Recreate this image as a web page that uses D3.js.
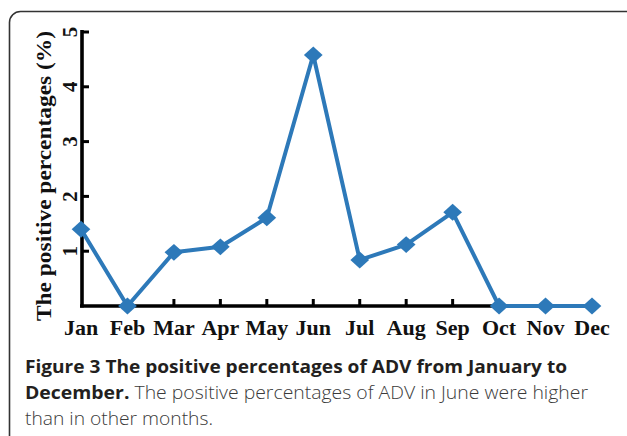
<!DOCTYPE html>
<html>
<head>
<meta charset="utf-8">
<title>Positive percentages of ADV</title>
<script src="https://d3js.org/d3.v7.min.js"></script>
<style>
  body { margin: 0; background: #fff; }
  svg { display: block; }
</style>
</head>
<body>
<script>
// data
var months = ["Jan", "Feb", "Mar", "Apr", "May", "Jun", "Jul", "Aug", "Sep", "Oct", "Nov", "Dec"];
var percents = [1.40, 0, 0.98, 1.08, 1.61, 4.58, 0.84, 1.12, 1.71, 0, 0, 0];
var yTicks = [1, 2, 3, 4, 5];
var tickedMonths = ["Mar", "Apr", "May", "Jun", "Jul", "Aug", "Sep"];
var captionLines = [
  [["Figure 3 The positive percentages of ADV from January to", true]],
  [["December.", true], [" The positive percentages of ADV in June were higher", false]],
  [["than in other months.", false]]
];

var w = 627, h = 436;
var blue = "#2d79b9";

var svg = d3.select("body").append("svg")
  .attr("width", w)
  .attr("height", h);

// frame around figure + caption
svg.append("rect")
  .attr("x", 9.5).attr("y", 11.5)
  .attr("width", 628).attr("height", 460)
  .attr("rx", 11)
  .attr("fill", "none")
  .attr("stroke", "#333")
  .attr("stroke-width", 1.6);

var xScale = d3.scalePoint()
  .domain(months)
  .range([81, 592]);

var yScale = d3.scaleLinear()
  .domain([0, 5])
  .range([306, 32]);

var serif = "'Liberation Serif', 'Times New Roman', serif";

// axes lines
svg.append("line")
  .attr("x1", 82).attr("x2", 82)
  .attr("y1", yScale(5) - 2).attr("y2", yScale(0) + 1.5)
  .attr("stroke", "#000").attr("stroke-width", 3.6);
svg.append("line")
  .attr("x1", 80).attr("x2", xScale("Dec"))
  .attr("y1", yScale(0)).attr("y2", yScale(0))
  .attr("stroke", "#000").attr("stroke-width", 3.6);

// y ticks (inside) and rotated labels
svg.selectAll(".ytick")
  .data(yTicks)
  .enter().append("line")
  .attr("class", "ytick")
  .attr("x1", 82).attr("x2", 89)
  .attr("y1", function(d) { return yScale(d); })
  .attr("y2", function(d) { return yScale(d); })
  .attr("stroke", "#000").attr("stroke-width", 3);

svg.selectAll(".ylab")
  .data(yTicks)
  .enter().append("text")
  .attr("class", "ylab")
  .attr("transform", function(d) { return "translate(77," + yScale(d) + ") rotate(-90)"; })
  .attr("text-anchor", "middle")
  .attr("font-family", serif)
  .attr("font-weight", "bold")
  .attr("font-size", 21)
  .attr("fill", "#111")
  .text(function(d) { return d; });

// x ticks (inside)
svg.selectAll(".xtick")
  .data(tickedMonths)
  .enter().append("line")
  .attr("class", "xtick")
  .attr("x1", function(d) { return xScale(d); })
  .attr("x2", function(d) { return xScale(d); })
  .attr("y1", yScale(0)).attr("y2", yScale(0) - 7)
  .attr("stroke", "#000").attr("stroke-width", 3);

svg.selectAll(".xlab")
  .data(months)
  .enter().append("text")
  .attr("class", "xlab")
  .attr("x", function(d) { return xScale(d); })
  .attr("y", 335)
  .attr("text-anchor", "middle")
  .attr("font-family", serif)
  .attr("font-weight", "bold")
  .attr("font-size", 22)
  .attr("fill", "#111")
  .text(function(d) { return d; });

// y axis title
svg.append("text")
  .attr("transform", "translate(51,176) rotate(-90)")
  .attr("text-anchor", "middle")
  .attr("font-family", serif)
  .attr("font-weight", "bold")
  .attr("font-size", 22)
  .attr("textLength", 290)
  .attr("lengthAdjust", "spacingAndGlyphs")
  .attr("fill", "#111")
  .text("The positive percentages (%)");

// the series
var line = d3.line()
  .x(function(d, i) { return xScale(months[i]); })
  .y(function(d) { return yScale(d); });

svg.append("path")
  .datum(percents)
  .attr("d", line)
  .attr("fill", "none")
  .attr("stroke", blue)
  .attr("stroke-width", 4)
  .attr("stroke-linejoin", "round");

var diamond = d3.symbol().type(d3.symbolSquare).size(175);
svg.selectAll(".pt")
  .data(percents)
  .enter().append("path")
  .attr("class", "pt")
  .attr("d", diamond)
  .attr("transform", function(d, i) {
    return "translate(" + xScale(months[i]) + "," + yScale(d) + ") scale(1,0.9) rotate(45)";
  })
  .attr("fill", blue);

// caption
var capY = [373, 399, 425];
var capWidth = [542, 563, 188];
captionLines.forEach(function(parts, i) {
  var t = svg.append("text")
    .attr("x", 25)
    .attr("y", capY[i])
    .attr("font-family", "'Open Sans', 'Noto Sans', sans-serif")
    .attr("font-size", 18)
    .attr("textLength", capWidth[i])
    .attr("lengthAdjust", "spacingAndGlyphs");
  parts.forEach(function(p) {
    t.append("tspan")
      .attr("font-weight", p[1] ? "bold" : "300")
      .attr("fill", p[1] ? "#231f20" : "#3a3a3a")
      .text(p[0]);
  });
});
</script>
</body>
</html>
